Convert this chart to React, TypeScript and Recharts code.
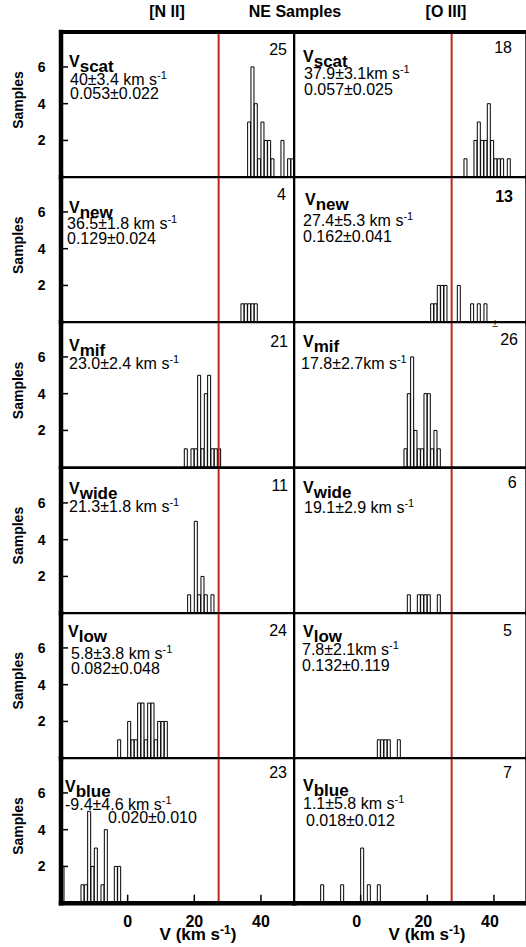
import React from 'react';
import { BarChart, Bar, XAxis, YAxis, ReferenceLine } from 'recharts';

// ---------------- data ----------------
const titles = ['[N II]', 'NE Samples', '[O III]'];
const components = ['scat', 'new', 'mif', 'wide', 'low', 'blue'];

// histogram bin left edges (km/s) and counts, [N II] column
const n2ScatBins = [36, 37, 38, 39, 40, 41, 42, 43, 46, 48, 49];
const n2ScatCounts = [3, 6, 4, 1, 3, 2, 2, 1, 2, 1, 1];
const n2NewBins = [34, 35, 36, 37, 38];
const n2NewCounts = [1, 1, 1, 1, 1];
const n2MifBins = [17, 19, 20, 21, 22, 23, 24, 25, 26, 27];
const n2MifCounts = [1, 1, 1, 5, 1, 4, 5, 1, 1, 1];
const n2WideBins = [18, 20, 21, 22, 23, 25];
const n2WideCounts = [1, 5, 1, 2, 1, 1];
const n2LowBins = [-3, 0, 1, 2, 3, 4, 5, 6, 7, 8, 9, 10, 11];
const n2LowCounts = [1, 2, 1, 1, 3, 3, 1, 3, 3, 1, 2, 2, 2];
const n2BlueBins = [-20, -14, -13, -12, -11, -10, -8, -7, -4, -3];
const n2BlueCounts = [2, 1, 1, 5, 2, 3, 1, 4, 2, 2];

// [O III] column
const o3ScatBins = [31, 34, 35, 36, 37, 38, 39, 40, 41, 42, 44];
const o3ScatCounts = [1, 2, 3, 2, 2, 4, 2, 1, 1, 1, 1];
const o3NewBins = [21, 22, 23, 24, 25, 29, 33, 35, 37];
const o3NewCounts = [1, 1, 2, 2, 2, 2, 1, 1, 1];
const o3MifBins = [13, 14, 15, 16, 17, 18, 19, 20, 21, 22, 23];
const o3MifCounts = [1, 4, 6, 2, 1, 1, 4, 4, 1, 2, 1];
const o3WideBins = [14, 17, 18, 19, 20, 23];
const o3WideCounts = [1, 1, 1, 1, 1, 1];
const o3LowBins = [5, 6, 7, 8, 11];
const o3LowCounts = [1, 1, 1, 1, 1];
const o3BlueBins = [-12, -6, 0, 2, 5];
const o3BlueCounts = [1, 1, 3, 1, 1];

const n2Samples = [25, 4, 21, 11, 24, 23];
const o3Samples = [18, 13, 26, 6, 5, 7];
const n2Vel = ['40±3.4 km s', '36.5±1.8 km s', '23.0±2.4 km s', '21.3±1.8 km s', '5.8±3.8 km s', '-9.4±4.6 km s'];
const o3Vel = ['37.9±3.1km s', '27.4±5.3 km s', '17.8±2.7km s', '19.1±2.9 km s', '7.8±2.1km s', '1.1±5.8 km s'];
const n2Frac = ['0.053±0.022', '0.129±0.024', '', '', '0.082±0.048', '0.020±0.010'];
const o3Frac = ['0.057±0.025', '0.162±0.041', '', '', '0.132±0.119', '0.018±0.012'];
const refVelocity = 27.3;

const xMajorTicks = [0, 20, 40];
const xMinorTicks = [-15, -10, -5, 5, 10, 15, 25, 30, 35, 45];
const yMajorTicks = [2, 4, 6];
const yMinorTicks = [1, 3, 5, 7];
const xDomain = [-20, 50];
const yDomain = [0, 7.9];

const n2Hist = [
  [n2ScatBins, n2ScatCounts], [n2NewBins, n2NewCounts], [n2MifBins, n2MifCounts],
  [n2WideBins, n2WideCounts], [n2LowBins, n2LowCounts], [n2BlueBins, n2BlueCounts],
];
const o3Hist = [
  [o3ScatBins, o3ScatCounts], [o3NewBins, o3NewCounts], [o3MifBins, o3MifCounts],
  [o3WideBins, o3WideCounts], [o3LowBins, o3LowCounts], [o3BlueBins, o3BlueCounts],
];

const categories: number[] = [];
for (let b = xDomain[0]; b < xDomain[1]; b++) categories.push(b);

function buildTable(bins: number[], counts: number[]) {
  return categories.map((b) => {
    const i = bins.indexOf(b);
    return { bin: b, count: i >= 0 ? counts[i] : 0 };
  });
}

// ---------------- layout ----------------
const FONT = "'Liberation Sans', Arial, Helvetica, sans-serif";
const PW = 233.3;
const PH = 145.2;
const LX0 = 61;
const RX0 = 294;
const TOP0 = 32;
const AX = 0.01; // tiny axis thickness so axes render but take no room

// annotation positions [vx, vy, l1x, l1y, l2x, l2y, countRightX, countY]
const n2Pos = [
  [69, 66.7, 70, 85, 70, 99, 287, 55],
  [69, 213, 67, 228.5, 67, 243.5, 286, 199.5],
  [69, 351, 69, 369, 69, 383, 288, 346.7],
  [69, 494, 69, 512, 69, 526, 288, 491],
  [68, 637, 71, 659, 71, 674, 287, 636],
  [65, 792, 65, 810, 108, 823, 287, 778],
];
const o3Pos = [
  [303, 61.7, 304, 79, 304, 94.5, 512, 52.7],
  [305, 205, 303, 226, 303, 241.5, 513, 201.7],
  [303, 347, 301, 369, 301, 383, 518, 345],
  [303, 493, 304, 513, 304, 527, 516.7, 488.3],
  [303, 637, 302, 655, 302, 670.7, 512, 636],
  [303, 791, 303, 809, 306, 826, 512, 778],
];

const tickLineStyle = { stroke: '#000', strokeWidth: 1.5 };

function makeXTick(shift: number, tickLen: number) {
  return (props: any) => {
    const { x, y, payload } = props;
    return (
      <text x={x + shift} y={y + tickLen + 24} textAnchor="middle" fontSize={16} fontWeight="bold" fontFamily={FONT} fill="#000">
        {payload.value}
      </text>
    );
  };
}

function Panel({ col, row }: { col: number; row: number }) {
  const hist = col === 0 ? n2Hist[row] : o3Hist[row];
  const data = buildTable(hist[0], hist[1]);
  const isLeft = col === 0;
  const isTop = row === 0;
  const isBottom = row === 5;
  const plotX = isLeft ? LX0 : RX0;
  const plotY = TOP0 + row * PH;
  const mL = isLeft ? LX0 : 6;
  const mR = 6;
  const mT = 6;
  const mB = isBottom ? 45 : 6;
  const W = PW + mL + mR;
  const H = PH + mT + mB;
  const axisLine = (w: number) => ({ stroke: '#000', strokeWidth: w, strokeLinecap: 'square' as const });
  const bottomW = isBottom ? 4.5 : 2;
  const topW = isTop ? 4 : 2;
  const leftW = isLeft ? 4.5 : 2;
  const rightW = isLeft ? 2 : 4;
  const majX = isBottom ? 8.5 : 7;
  return (
    <div style={{ position: 'absolute', left: plotX - mL, top: plotY - mT, width: W, height: H }}>
      <BarChart width={W} height={H} data={data}
        margin={{ top: mT - 2 * AX, right: mR - 2 * AX, bottom: mB - 2 * AX, left: mL - 2 * AX }}
        barCategoryGap={0} barGap={0}>
        <XAxis xAxisId="xb" dataKey="bin" type="number" domain={xDomain} allowDataOverflow ticks={xMajorTicks} interval={0}
          orientation="bottom" height={AX} tickSize={-majX} tickMargin={0} stroke="#000" tickLine={tickLineStyle}
          axisLine={axisLine(bottomW)} tick={isBottom ? makeXTick(isLeft ? 0 : -4, majX) : false} />
        <XAxis xAxisId="xbm" dataKey="bin" type="number" domain={xDomain} allowDataOverflow ticks={xMinorTicks} interval={0}
          orientation="bottom" height={AX} tickSize={-4.5} stroke="#000" tickLine={tickLineStyle} axisLine={false} tick={false} />
        <XAxis xAxisId="xt" dataKey="bin" type="number" domain={xDomain} allowDataOverflow ticks={xMajorTicks} interval={0}
          orientation="top" height={AX} tickSize={-7} stroke="#000" tickLine={tickLineStyle} axisLine={axisLine(topW)} tick={false} />
        <XAxis xAxisId="xtm" dataKey="bin" type="number" domain={xDomain} allowDataOverflow ticks={xMinorTicks} interval={0}
          orientation="top" height={AX} tickSize={-4.5} stroke="#000" tickLine={tickLineStyle} axisLine={false} tick={false} />
        <XAxis xAxisId="cat" dataKey="bin" type="category" hide height={0} />
        <YAxis yAxisId="yl" type="number" domain={yDomain} allowDataOverflow ticks={yMajorTicks} interval={0}
          orientation="left" width={AX} tickSize={-7} tickMargin={22.5} stroke="#000" tickLine={tickLineStyle}
          axisLine={axisLine(leftW)}
          tick={isLeft ? { fontSize: 14, fontWeight: 'bold', fill: '#000', fontFamily: FONT } : false} />
        <YAxis yAxisId="ylm" type="number" domain={yDomain} allowDataOverflow ticks={yMinorTicks} interval={0}
          orientation="left" width={AX} tickSize={-4.5} stroke="#000" tickLine={tickLineStyle} axisLine={false} tick={false} />
        <YAxis yAxisId="yr" type="number" domain={yDomain} allowDataOverflow ticks={yMajorTicks} interval={0}
          orientation="right" width={AX} tickSize={-7} stroke="#000" tickLine={tickLineStyle} axisLine={axisLine(rightW)} tick={false} />
        <YAxis yAxisId="yrm" type="number" domain={yDomain} allowDataOverflow ticks={yMinorTicks} interval={0}
          orientation="right" width={AX} tickSize={-4.5} stroke="#000" tickLine={tickLineStyle} axisLine={false} tick={false} />
        <ReferenceLine xAxisId="xb" yAxisId="yl" x={refVelocity} stroke="#c0281e" strokeWidth={2} />
        <Bar xAxisId="cat" yAxisId="yl" dataKey="count" fill="#fff" stroke="#000" strokeWidth={1} isAnimationActive={false} />
      </BarChart>
    </div>
  );
}

function Annotations() {
  const items: React.ReactNode[] = [];
  for (let row = 0; row < 6; row++) {
    const rowTop = TOP0 + row * PH;
    const cy = rowTop + 68;
    items.push(
      <text key={'s' + row} x={23} y={cy} transform={`rotate(-90, 23, ${cy})`} textAnchor="middle"
        fontSize={14} fontWeight="bold" fontFamily={FONT} fill="#000">Samples</text>
    );
    for (let col = 0; col < 2; col++) {
      const p = col === 0 ? n2Pos[row] : o3Pos[row];
      const vel = col === 0 ? n2Vel[row] : o3Vel[row];
      const frac = col === 0 ? n2Frac[row] : o3Frac[row];
      const n = col === 0 ? n2Samples[row] : o3Samples[row];
      const key = `${row}-${col}`;
      items.push(
        <text key={'v' + key} x={p[0]} y={p[1]} fontSize={16} fontWeight="bold" fontFamily={FONT} fill="#000">
          V<tspan fontSize={17} dy={5}>{components[row]}</tspan>
        </text>
      );
      items.push(
        <text key={'l1' + key} x={p[2]} y={p[3]} fontSize={16} fontFamily={FONT} fill="#000">
          {vel}<tspan fontSize={11} dy={-6}>-1</tspan>
        </text>
      );
      if (frac) {
        items.push(
          <text key={'l2' + key} x={p[4]} y={p[5]} fontSize={16} fontFamily={FONT} fill="#000">{frac}</text>
        );
      }
      items.push(
        <text key={'n' + key} x={p[6]} y={p[7]} textAnchor="end" fontSize={16}
          fontWeight={col === 1 && row === 1 ? 'bold' : 'normal'} fontFamily={FONT} fill="#000">{n}</text>
      );
    }
  }
  return (
    <svg width={526} height={947} style={{ position: 'absolute', left: 0, top: 0, pointerEvents: 'none' }}>
      <text x={167} y={17} textAnchor="middle" fontSize={16} fontWeight="bold" fontFamily={FONT} fill="#000">{titles[0]}</text>
      <text x={295} y={17} textAnchor="middle" fontSize={16} fontWeight="bold" fontFamily={FONT} fill="#000">{titles[1]}</text>
      <text x={446} y={17} textAnchor="middle" fontSize={16} fontWeight="bold" fontFamily={FONT} fill="#000">{titles[2]}</text>
      {items}
      <text x={495} y={327} textAnchor="middle" fontSize={11} fontFamily={FONT} fill="#000">±</text>
      <text x={198} y={940} textAnchor="middle" fontSize={17} fontWeight="bold" fontFamily={FONT} fill="#000">
        V (km s<tspan fontSize={12} dy={-6}>-1</tspan><tspan dy={6}>)</tspan>
      </text>
      <text x={427} y={940} textAnchor="middle" fontSize={17} fontWeight="bold" fontFamily={FONT} fill="#000">
        V (km s<tspan fontSize={12} dy={-6}>-1</tspan><tspan dy={6}>)</tspan>
      </text>
    </svg>
  );
}

export default function App() {
  const panels: React.ReactNode[] = [];
  for (let row = 0; row < 6; row++) {
    for (let col = 0; col < 2; col++) {
      panels.push(<Panel key={`${row}-${col}`} col={col} row={row} />);
    }
  }
  return (
    <div style={{ position: 'absolute', left: 0, top: 0, width: 526, height: 947, overflow: 'hidden', background: '#fff' }}>
      {panels}
      <Annotations />
    </div>
  );
}
